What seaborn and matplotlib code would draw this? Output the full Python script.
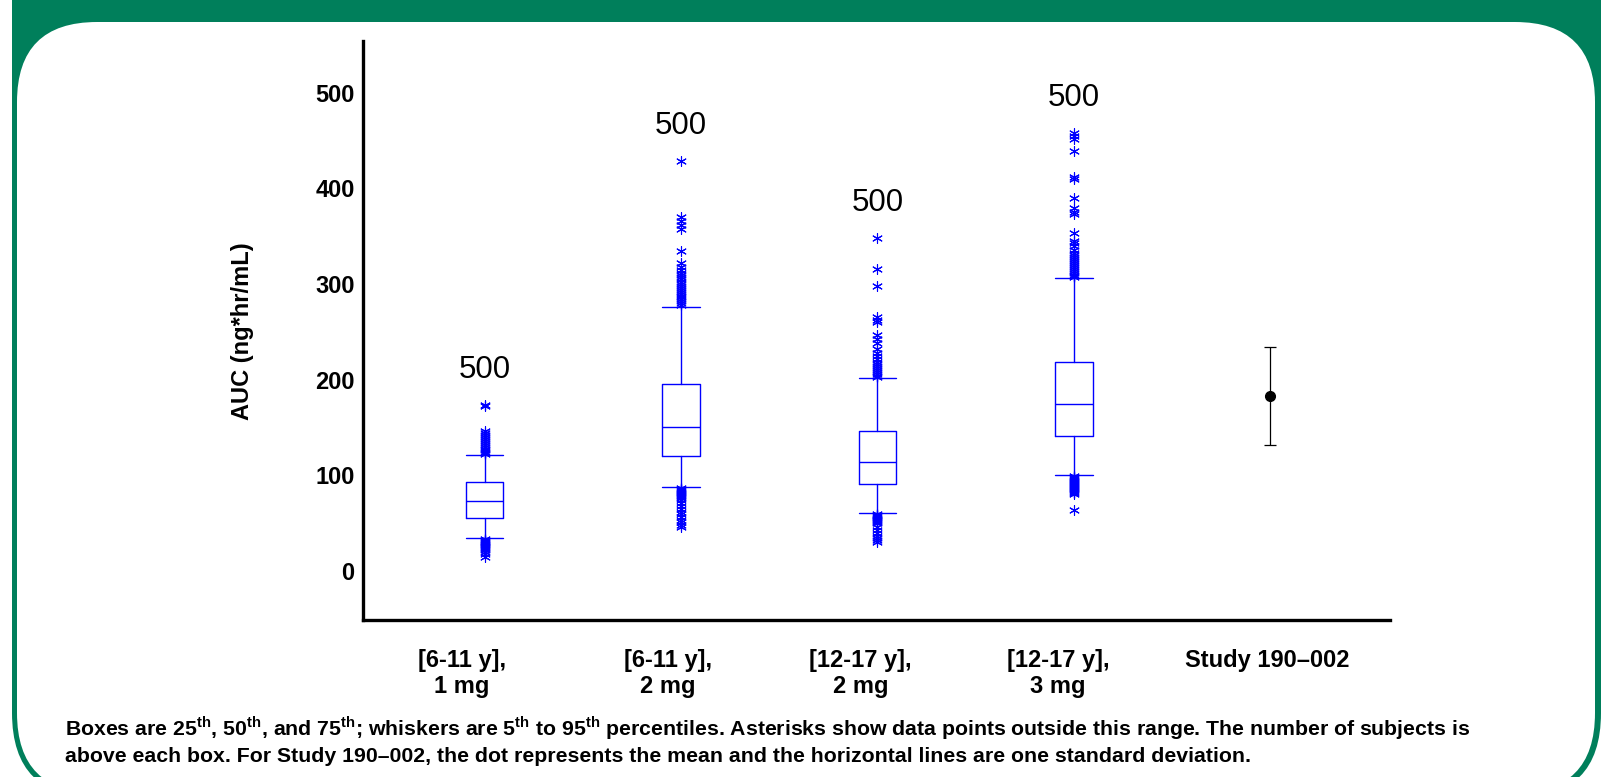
import matplotlib
matplotlib.use("Agg")
import matplotlib.pyplot as plt
import numpy as np
import pandas as pd
import seaborn as sns
from matplotlib.patches import FancyBboxPatch, Rectangle
from matplotlib.transforms import ScaledTranslation

# groups on the x axis
groups = ["[6-11 y],\n1 mg", "[6-11 y],\n2 mg", "[12-17 y],\n2 mg", "[12-17 y],\n3 mg", "Study 190\u2013002"]
n_subjects = [500, 500, 500, 500]

# percentiles: 5th, 25th, 50th, 75th, 95th
p05 = [35, 88, 61, 100]
p25 = [56, 120, 91, 141]
p50 = [73, 151, 114, 175]
p75 = [93, 196, 146, 219]
p95 = [121, 276, 202, 306]

# points outside 5th-95th (asterisks)
fliers_1 = [174, 173, 146, 144, 142, 140, 138, 136, 134, 132, 130, 128, 127, 125, 124, 122,
            34, 33, 32, 31, 30, 29, 28, 27, 26, 25, 24, 23, 22, 20, 18, 15]
fliers_2 = [429, 370, 366, 362, 358, 335, 322, 318, 315, 312, 310, 307, 305, 302, 300, 298,
            296, 294, 292, 290, 288, 286, 284, 282, 280, 278,
            87, 86, 85, 84, 83, 82, 81, 80, 79, 78, 76, 74, 71, 68, 65, 62, 60, 57, 54, 51, 48, 46]
fliers_3 = [348, 316, 298, 266, 262, 260, 247, 243, 238, 232, 228, 225, 222, 219, 216, 214,
            212, 210, 208, 206, 204, 203,
            60, 59, 58, 57, 56, 55, 54, 53, 52, 51, 50, 46, 43, 40, 37, 35, 33, 31]
fliers_4 = [458, 455, 452, 439, 412, 410, 390, 379, 375, 373, 353, 345, 343, 340, 336, 333,
            330, 328, 326, 324, 322, 320, 318, 316, 314, 312, 310, 308, 307,
            99, 98, 97, 96, 95, 94, 93, 92, 91, 90, 89, 88, 87, 86, 85, 84, 83, 82, 81, 64]
fliers = [fliers_1, fliers_2, fliers_3, fliers_4]

# Study 190-002 mean and +/- one SD
study_mean = 183
study_sd = 51

yticks = [0, 100, 200, 300, 400, 500]

sns.set_theme(style="white")
plt.rcParams["font.family"] = ["Liberation Sans", "DejaVu Sans"]
plt.rcParams["mathtext.fontset"] = "custom"
plt.rcParams["mathtext.rm"] = "Liberation Sans"
plt.rcParams["mathtext.bf"] = "Liberation Sans:bold"
plt.rcParams["text.color"] = "black"
plt.rcParams["xtick.color"] = "black"
plt.rcParams["ytick.color"] = "black"

green = "#007F5B"
blue = "#0000FF"

fig = plt.figure(figsize=(16.18, 7.77), dpi=100)
fig.patch.set_facecolor("white")

# green frame drawn in pixel units on a background axes
bg = fig.add_axes([0, 0, 1, 1])
bg.set_xlim(0, 1618)
bg.set_ylim(777, 0)
bg.axis("off")
bg.add_patch(FancyBboxPatch((12, -60), 1589, 858, boxstyle="round,pad=0,rounding_size=85",
                            facecolor=green, edgecolor="none"))
bg.add_patch(Rectangle((12, 0), 1589, 110, facecolor=green, edgecolor="none"))
bg.add_patch(FancyBboxPatch((17, 22), 1578, 771, boxstyle="round,pad=0,rounding_size=80",
                            facecolor="white", edgecolor="none"))

ax = fig.add_axes([363 / 1618, 1 - 620 / 777, (1390 - 363) / 1618, (620 - 41) / 777])
ax.set_facecolor("none")

positions = list(range(len(p50)))
stats = []
for i in positions:
    stats.append(dict(whislo=p05[i], q1=p25[i], med=p50[i], q3=p75[i], whishi=p95[i], fliers=[]))
ax.bxp(stats, positions=positions, widths=0.19, capwidths=0.19, showfliers=False,
       boxprops=dict(color=blue, linewidth=1.0),
       whiskerprops=dict(color=blue, linewidth=1.0),
       capprops=dict(color=blue, linewidth=1.0),
       medianprops=dict(color=blue, linewidth=1.0))

flier_df = pd.DataFrame({
    "pos": np.concatenate([[i] * len(f) for i, f in enumerate(fliers)]),
    "auc": np.concatenate(fliers),
})
sns.scatterplot(data=flier_df, x="pos", y="auc", ax=ax, marker=(6, 2, 0), s=50,
                color=blue, edgecolor=blue, linewidth=0.8, legend=False, zorder=3)

# number of subjects above each box
for i, n in enumerate(n_subjects):
    ax.annotate(str(n), xy=(i, max(fliers[i])), xytext=(0, 25), textcoords="offset points",
                ha="center", va="center", fontsize=22.5, color="black")

ax.errorbar([4], [study_mean], yerr=[study_sd], fmt="o", color="black", markersize=7,
            elinewidth=0.9, capsize=4, capthick=0.9)

ax.set_xlim(-0.62, 4.61)
ax.set_ylim(-51, 554)
ax.set_xticks(range(len(groups)))
ax.set_xticklabels(groups, fontsize=17, fontweight="bold", linespacing=1.15)
ax.set_yticks(yticks)
ax.set_yticklabels([str(t) for t in yticks], fontsize=17, fontweight="bold")
ax.tick_params(axis="both", length=0)
ax.tick_params(axis="x", pad=21)
ax.tick_params(axis="y", pad=6)
ax.set_xlabel("")
ax.set_ylabel("")
sns.despine(ax=ax)
for side in ["left", "bottom"]:
    ax.spines[side].set_color("black")
    ax.spines[side].set_linewidth(2.4)

# the category labels sit a little left of their boxes in the original
label_shift = [-23, -13, -17, -16, -3]
for lab, dx in zip(ax.get_xticklabels(), label_shift):
    lab.set_transform(lab.get_transform() + ScaledTranslation(dx / 100, 0, fig.dpi_scale_trans))

fig.text(242 / 1618, 1 - 331 / 777, "AUC (ng*hr/mL)", rotation=90, ha="center", va="center",
         fontsize=17, fontweight="bold")

line1 = (r"Boxes are 25$^{\mathbf{th}}$, 50$^{\mathbf{th}}$, and 75$^{\mathbf{th}}$; whiskers are "
         r"5$^{\mathbf{th}}$ to 95$^{\mathbf{th}}$ percentiles. Asterisks show data points outside "
         r"this range. The number of subjects is")
line2 = "above each box. For Study 190\u2013002, the dot represents the mean and the horizontal lines are one standard deviation."
fig.text(65 / 1618, 1 - 736 / 777, line1, ha="left", va="baseline", fontsize=15.3, fontweight="bold")
fig.text(65 / 1618, 1 - 762 / 777, line2, ha="left", va="baseline", fontsize=15.3, fontweight="bold")

fig.savefig("out.png", dpi=100)
